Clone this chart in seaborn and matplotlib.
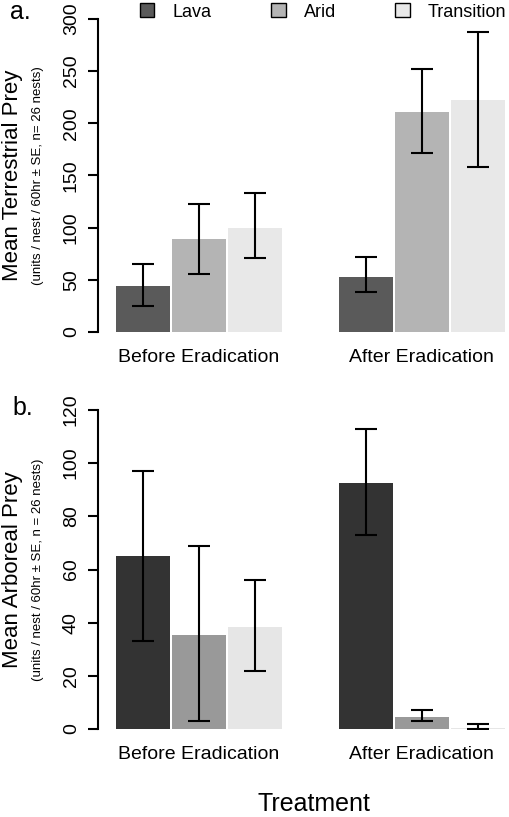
import matplotlib
matplotlib.use('Agg')
import matplotlib.pyplot as plt
from matplotlib.patches import Patch
import matplotlib.transforms as mtransforms
import seaborn as sns
import pandas as pd

# Data
treatments = ['Before Eradication', 'After Eradication']
habitats = ['Lava', 'Arid', 'Transition']

# panel a: terrestrial prey (mean, lower SE, upper SE)
terr_mean = {'Lava': [44, 53], 'Arid': [89, 211], 'Transition': [100, 222]}
terr_low = {'Lava': [25, 38], 'Arid': [56, 172], 'Transition': [71, 158]}
terr_high = {'Lava': [65, 72], 'Arid': [123, 252], 'Transition': [133, 288]}

# panel b: arboreal prey
arb_mean = {'Lava': [65, 92.5], 'Arid': [35.5, 4.5], 'Transition': [38.5, 0.5]}
arb_low = {'Lava': [33, 73], 'Arid': [3, 3], 'Transition': [22, 0]}
arb_high = {'Lava': [97, 113], 'Arid': [69, 7], 'Transition': [56, 2]}

pal_a = {'Lava': '#5a5a5a', 'Arid': '#b4b4b4', 'Transition': '#e8e8e8'}
pal_b = {'Lava': '#333333', 'Arid': '#999999', 'Transition': '#e6e6e6'}

sns.set_style('white')
plt.rcParams['font.family'] = ['Liberation Sans', 'DejaVu Sans']
for key in ['text.color', 'axes.labelcolor', 'xtick.color', 'ytick.color', 'axes.edgecolor']:
    plt.rcParams[key] = 'black'


def to_frame(means):
    rows = []
    for h in habitats:
        for t, v in zip(treatments, means[h]):
            rows.append({'treatment': t, 'habitat': h, 'value': v})
    return pd.DataFrame(rows)


def draw_panel(ax, means, low, high, palette, ymax, step, ylabel, sublabel):
    df = to_frame(means)
    sns.barplot(data=df, x='treatment', y='value', hue='habitat',
                order=treatments, hue_order=habitats, palette=palette,
                width=0.75, gap=0.03, errorbar=None, legend=False,
                saturation=1, linewidth=0, ax=ax)
    # error bars at the centres of the bars seaborn drew
    for h, cont in zip(habitats, ax.containers):
        xs = [p.get_x() + p.get_width() / 2 for p in cont.patches]
        m = means[h]
        yerr = [[m[i] - low[h][i] for i in range(2)],
                [high[h][i] - m[i] for i in range(2)]]
        ax.errorbar(xs, m, yerr=yerr, fmt='none', ecolor='black',
                    elinewidth=1.5, capsize=8, capthick=1.5)
    ax.set_ylim(0, ymax)
    ax.set_xlim(-0.453, 1.395)
    ax.set_yticks(range(0, ymax + 1, step))
    ax.tick_params(axis='y', left=True, length=7, width=1.5, pad=6,
                   labelsize=14, labelrotation=90, direction='out',
                   colors='black')
    for lab in ax.get_yticklabels():
        lab.set_verticalalignment('center')
    ax.tick_params(axis='x', bottom=False, length=0, pad=12, labelsize=14,
                   colors='black')
    for s in ['top', 'right', 'bottom']:
        ax.spines[s].set_visible(False)
    ax.spines['left'].set_linewidth(1.5)
    ax.spines['left'].set_color('black')
    ax.spines['left'].set_bounds(0, ymax)
    ax.set_xlabel('')
    ax.set_ylabel('')
    tr = mtransforms.blended_transform_factory(fig.transFigure, ax.transAxes)
    fig.text(13 / 510, 0.5, ylabel, rotation=90, fontsize=16,
             ha='center', va='center', transform=tr)
    fig.text(38 / 510, 0.5, sublabel, rotation=90, fontsize=9.5,
             ha='center', va='center', transform=tr)


fig = plt.figure(figsize=(5.1, 8.17), dpi=100)
ax_a = fig.add_axes([98 / 510, (817 - 332) / 817, 412 / 510, 313 / 817])
ax_b = fig.add_axes([98 / 510, (817 - 729) / 817, 412 / 510, 319 / 817])

draw_panel(ax_a, terr_mean, terr_low, terr_high, pal_a, 300, 50,
           'Mean Terrestrial Prey',
           '(units / nest / 60hr \u00b1 SE, n= 26 nests)')
draw_panel(ax_b, arb_mean, arb_low, arb_high, pal_b, 120, 20,
           'Mean Arboreal Prey',
           '(units / nest / 60hr \u00b1 SE, n = 26 nests)')

fig.text(20 / 510, 1 - 12 / 817, 'a.', fontsize=18, ha='center', va='center')
fig.text(23 / 510, 1 - 408 / 817, 'b.', fontsize=18, ha='center', va='center')
fig.text(314 / 510, 1 - 804 / 817, 'Treatment', fontsize=18, ha='center', va='center')

handles = [Patch(facecolor=pal_a[h], edgecolor='black', linewidth=1) for h in habitats]
fig.legend(handles, habitats, ncol=3, frameon=False, fontsize=13,
           loc='center left', bbox_to_anchor=(140 / 510, 1 - 12 / 817),
           borderpad=0, borderaxespad=0, handlelength=0.8, handleheight=0.8,
           handletextpad=1.0, columnspacing=3.3)

fig.savefig('out.png', dpi=100)
